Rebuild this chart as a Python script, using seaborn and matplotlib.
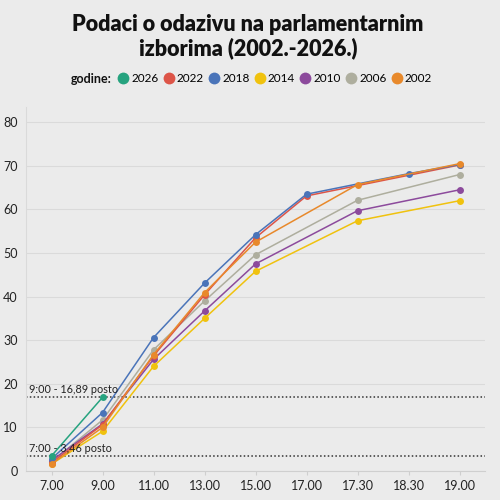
import pandas as pd
import seaborn as sns
import matplotlib.pyplot as plt
from matplotlib.lines import Line2D

# Podaci
vremena = ['7.00', '9.00', '11.00', '13.00', '15.00', '17.00', '17.30', '18.30', '19.00']

god_2026_t = ['7.00', '9.00']
god_2026 = [3.46, 16.89]

god_2022_t = ['7.00', '9.00', '11.00', '13.00', '15.00', '17.00', '19.00']
god_2022 = [1.9, 10.6, 26.4, 40.4, 53.5, 63.1, 70.2]

god_2018_t = ['7.00', '9.00', '11.00', '13.00', '15.00', '17.00', '18.30', '19.00']
god_2018 = [2.8, 13.4, 30.6, 43.1, 54.2, 63.5, 68.2, 70.3]

god_2014_t = ['7.00', '9.00', '11.00', '13.00', '15.00', '17.30', '19.00']
god_2014 = [1.6, 9.1, 24.0, 35.0, 45.8, 57.4, 62.0]

god_2010_t = ['7.00', '9.00', '11.00', '13.00', '15.00', '17.30', '19.00']
god_2010 = [2.4, 10.8, 25.6, 36.7, 47.5, 59.7, 64.5]

god_2006_t = ['7.00', '9.00', '11.00', '13.00', '15.00', '17.30', '19.00']
god_2006 = [2.1, 11.7, 27.8, 39.0, 49.6, 62.1, 68.0]

god_2002_t = ['7.00', '9.00', '11.00', '13.00', '15.00', '17.30', '19.00']
god_2002 = [1.6, 10.0, 26.7, 40.9, 52.5, 65.7, 70.5]

legenda = ['2026', '2022', '2018', '2014', '2010', '2006', '2002']
boje = {
    '2026': '#26a37f',
    '2022': '#dd5548',
    '2018': '#4a74b9',
    '2014': '#f0c20e',
    '2010': '#8c4a9c',
    '2006': '#aeae9e',
    '2002': '#e8892b',
}
redoslijed = ['2006', '2010', '2014', '2022', '2018', '2002', '2026']

serije = {
    '2026': (god_2026_t, god_2026),
    '2022': (god_2022_t, god_2022),
    '2018': (god_2018_t, god_2018),
    '2014': (god_2014_t, god_2014),
    '2010': (god_2010_t, god_2010),
    '2006': (god_2006_t, god_2006),
    '2002': (god_2002_t, god_2002),
}

rows = []
for g, (tt, vv) in serije.items():
    for t, v in zip(tt, vv):
        rows.append({'godina': g, 'x': vremena.index(t), 'odaziv': v})
df = pd.DataFrame(rows)

pozadina = '#ebebeb'
plt.rcParams['font.family'] = ['Lato', 'DejaVu Sans']

fig = plt.figure(figsize=(5, 5), dpi=100, facecolor=pozadina)
ax = fig.add_axes([0.052, 0.058, 0.918, 0.728])
ax.set_facecolor(pozadina)

sns.lineplot(
    data=df, x='x', y='odaziv', hue='godina',
    hue_order=redoslijed, palette=boje,
    marker='o', markersize=5, markeredgewidth=0,
    linewidth=1.1, legend=False, ax=ax
)

# referentne linije
ax.axhline(16.89, color='#333333', linestyle=(0, (1, 1.5)), linewidth=1.1, zorder=1)
ax.axhline(3.46, color='#333333', linestyle=(0, (1, 1.5)), linewidth=1.1, zorder=1)
ax.text(-0.44, 16.89 + 1.0, '9:00 - 16,89 posto', fontsize=7.8, color='#222222')
ax.text(-0.44, 3.46 + 1.0, '7:00 - 3,46 posto', fontsize=7.8, color='#222222')

ax.set_xlim(-0.5, 8.5)
ax.set_ylim(0, 83.5)
ax.set_xticks(range(len(vremena)))
ax.set_xticklabels(vremena)
ax.set_yticks(range(0, 81, 10))
ax.grid(axis='y', color='#dadada', linewidth=0.8)
ax.set_axisbelow(True)
ax.set_xlabel('')
ax.set_ylabel('')

for s in ['top', 'right']:
    ax.spines[s].set_visible(False)
ax.spines['left'].set_color('#dadada')
ax.spines['bottom'].set_color('#cfcfcf')
ax.tick_params(axis='y', length=0, labelsize=9, colors='#222222', pad=6)
ax.tick_params(axis='x', length=3, color='#cfcfcf', labelsize=9, colors='#222222')

# naslov
fig.text(0.496, 0.972, 'Podaci o odazivu na parlamentarnim\nizborima (2002.-2026.)',
         ha='center', va='top', fontsize=15.5, fontweight='heavy',
         linespacing=1.15, color='#111111')

# legenda
fig.text(0.142, 0.842, 'godine:', fontsize=9, fontweight='bold',
         va='center', ha='left', color='#111111')
handles = [Line2D([], [], marker='o', linestyle='', markersize=8.5,
                  markerfacecolor=boje[g], markeredgewidth=0) for g in legenda]
fig.legend(handles, legenda, ncol=7, loc='center left',
           bbox_to_anchor=(0.232, 0.842), frameon=False,
           fontsize=8.5, handletextpad=0.1, columnspacing=0.25,
           handlelength=1.2, borderpad=0, borderaxespad=0)

plt.savefig('out.png', dpi=100, facecolor=pozadina)
